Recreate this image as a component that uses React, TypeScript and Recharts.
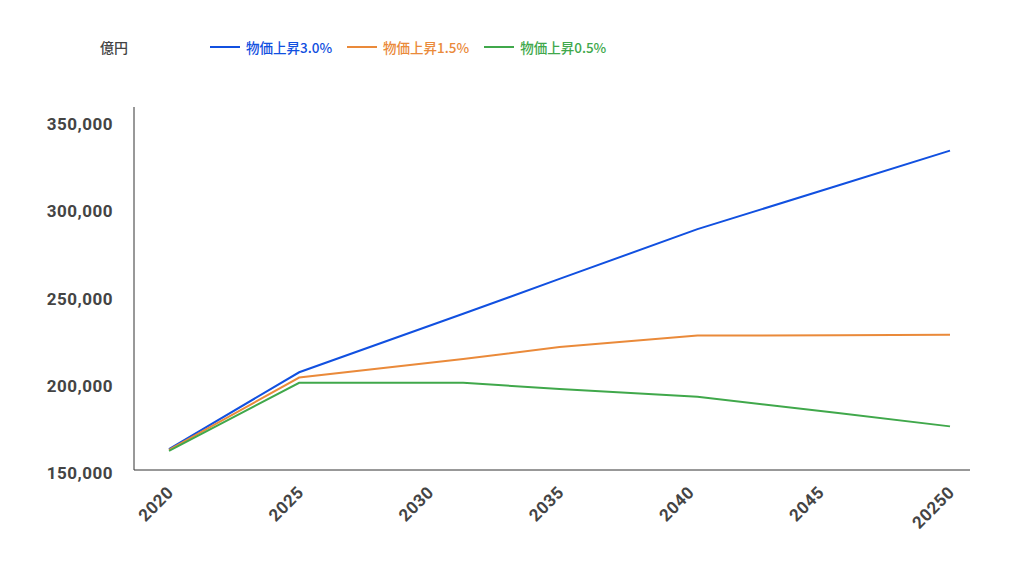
import React from "react";
import { LineChart, Line, XAxis, YAxis, Legend } from "recharts";

const years = [2020, 2025, 2031.3, 2035, 2040.3, 2045.7, 2050];
const inflation30 = [162000, 206000, 239500, 259500, 288000, 313000, 333000];
const inflation15 = [161500, 203000, 213600, 220500, 227000, 227200, 227500];
const inflation05 = [161000, 200000, 200000, 196400, 192000, 182700, 175000];

const xTickValues = [2020, 2025, 2030, 2035, 2040, 2045, 2050];
const xTickLabels = ["2020", "2025", "2030", "2035", "2040", "2045", "20250"];
const yTicks = [150000, 200000, 250000, 300000, 350000];

const seriesNames = ["物価上昇3.0%", "物価上昇1.5%", "物価上昇0.5%"];
const seriesColors = ["#1150e0", "#ea8a3a", "#40a84b"];
const unitLabel = "億円";

const data = years.map((y, i) => ({
  year: y,
  s30: inflation30[i],
  s15: inflation15[i],
  s05: inflation05[i],
}));

const tickFont = "Roboto, sans-serif";

const LegendContent = () => (
  <div
    style={{
      display: "flex",
      alignItems: "center",
      height: 20,
      fontFamily: "'Noto Sans CJK JP', sans-serif",
      fontSize: 13.5,
      fontWeight: 500,
    }}
  >
    <span style={{ color: "#444", marginLeft: 100, width: 110, fontSize: 14 }}>{unitLabel}</span>
    {seriesNames.map((n, i) => (
      <span key={n} style={{ display: "flex", alignItems: "center", marginRight: 15 }}>
        <span
          style={{
            display: "inline-block",
            width: 30,
            height: 2,
            background: seriesColors[i],
            marginRight: 6,
          }}
        />
        <span style={{ color: seriesColors[i] }}>{n}</span>
      </span>
    ))}
  </div>
);

const tickStyle = {
  fill: "#444",
  fontSize: 17,
  fontWeight: "bold",
  fontFamily: tickFont,
  letterSpacing: 0.5,
};

export default function App() {
  return (
    <div style={{ position: "absolute", left: 0, top: 0, background: "#fff" }}>
      <LineChart
        width={1020}
        height={580}
        data={data}
        margin={{ top: 87, right: 50, bottom: 80, left: 0 }}
      >
        <Legend
          verticalAlign="top"
          content={<LegendContent />}
          wrapperStyle={{ position: "absolute", top: 37, left: 0, width: 1020, height: 20 }}
        />
        <XAxis
          dataKey="year"
          type="number"
          domain={[2020, 2050]}
          ticks={xTickValues}
          tickFormatter={(v: number) => xTickLabels[xTickValues.indexOf(v)] ?? String(v)}
          padding={{ left: 35, right: 20 }}
          axisLine={{ stroke: "#333", strokeWidth: 1 }}
          tickLine={false}
          tickSize={0}
          tickMargin={15}
          height={30}
          angle={-45}
          textAnchor="end"
          dx={-3}
          interval={0}
          allowDecimals
          tick={tickStyle}
        />
        <YAxis
          type="number"
          domain={[150000, 358000]}
          ticks={yTicks}
          width={134}
          axisLine={{ stroke: "#333", strokeWidth: 1 }}
          tickLine={false}
          tickSize={0}
          tickMargin={21}
          interval={0}
          dy={3}
          tickFormatter={(v: number) => v.toLocaleString("en-US")}
          tick={tickStyle}
        />
        <Line type="linear" dataKey="s30" name={seriesNames[0]} stroke={seriesColors[0]} strokeWidth={2} dot={false} isAnimationActive={false} />
        <Line type="linear" dataKey="s15" name={seriesNames[1]} stroke={seriesColors[1]} strokeWidth={2} dot={false} isAnimationActive={false} />
        <Line type="linear" dataKey="s05" name={seriesNames[2]} stroke={seriesColors[2]} strokeWidth={2} dot={false} isAnimationActive={false} />
      </LineChart>
    </div>
  );
}
